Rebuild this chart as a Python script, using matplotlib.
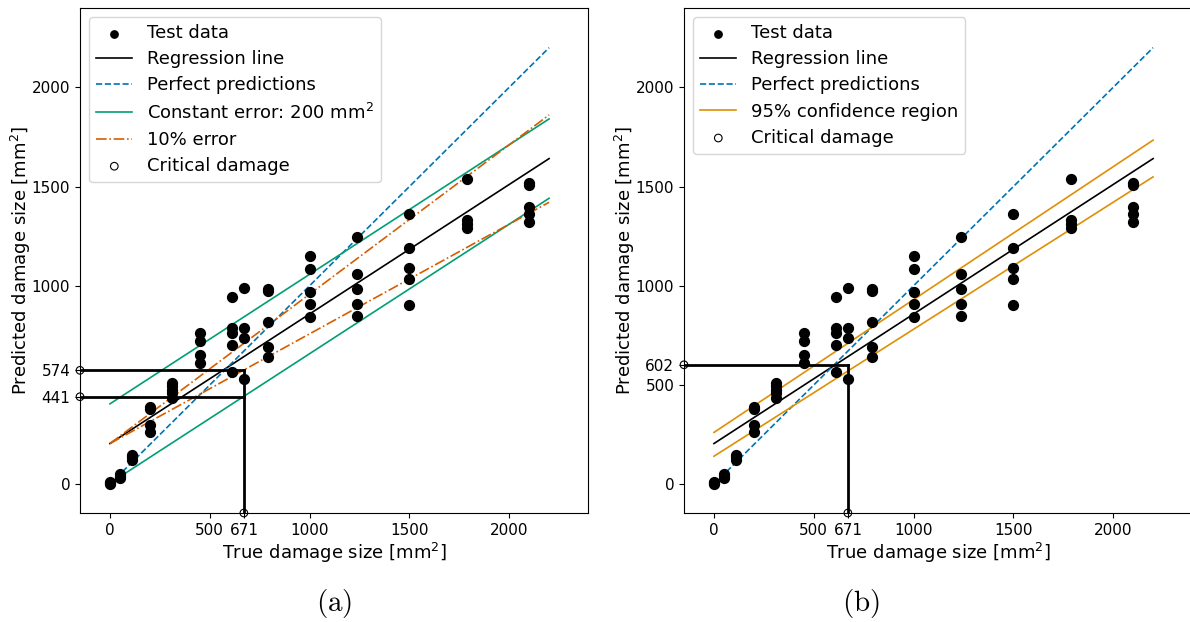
import numpy as np
import matplotlib.pyplot as plt

# test data: true damage size -> predicted damage size [mm^2]
true_size = [0, 0, 0,
             50, 50, 50,
             110, 110, 110,
             200, 200, 200, 200,
             310, 310, 310, 310, 310,
             450, 450, 450, 450,
             610, 610, 610, 610, 610,
             670, 670, 670, 670,
             790, 790, 790, 790, 790,
             1000, 1000, 1000, 1000, 1000,
             1240, 1240, 1240, 1240, 1240,
             1500, 1500, 1500, 1500, 1500,
             1790, 1790, 1790, 1790,
             2100, 2100, 2100, 2100, 2100]
pred_size = [0, 5, 10,
             30, 40, 52,
             121, 135, 146,
             261, 301, 379, 390,
             436, 458, 475, 495, 512,
             610, 651, 724, 761,
             567, 702, 761, 786, 944,
             530, 739, 786, 988,
             643, 693, 818, 975, 986,
             845, 908, 971, 1084, 1148,
             848, 908, 985, 1059, 1246,
             902, 1034, 1089, 1190, 1360,
             1290, 1312, 1332, 1540,
             1322, 1364, 1397, 1510, 1520]

# lines (end points)
line_x = [0, 2200]
reg_y = [205, 1641]
const_err = 200
pct_err = 0.10
conf_upper = [261, 1734]
conf_lower = [141, 1549]

crit_true = 671
crit_pred_a = [574, 441]
crit_pred_b = 602

xticks = [0, 500, 671, 1000, 1500, 2000]
yticks_a = [0, 441, 574, 1000, 1500, 2000]
yticks_b = [0, 500, 602, 1000, 1500, 2000]

xlim_a = (-150, 2395)
xlim_b = (-150, 2455)   # right panel is cut at the figure edge
ylim = (-145, 2400)

c_blue = '#0173b2'
c_green = '#029e73'
c_red = '#d55e00'
c_orange = '#de8f05'

fig = plt.figure(figsize=(11.9, 6.22), dpi=100)
ax1 = fig.add_axes([80 / 1190, 109 / 622, 508 / 1190, 505 / 622])
ax2 = fig.add_axes([684 / 1190, 109 / 622, 520 / 1190, 505 / 622])

lx = np.array(line_x)
ry = np.array(reg_y)

# (a)
ax1.scatter(true_size, pred_size, s=50, c='black', label='Test data', zorder=3)
ax1.plot(lx, ry, c='black', lw=1.2, label='Regression line')
ax1.plot(lx, lx, c=c_blue, ls='--', lw=1.2, label='Perfect predictions')
ax1.plot(lx, ry + const_err, c=c_green, lw=1.2, label=r'Constant error: 200 mm$^2$')
ax1.plot(lx, ry - const_err, c=c_green, lw=1.2)
ax1.plot(lx, ry + pct_err * lx, c=c_red, ls='-.', lw=1.2, label='10% error')
ax1.plot(lx, ry - pct_err * lx, c=c_red, ls='-.', lw=1.2)
ax1.plot([crit_true, crit_true], [ylim[0], max(crit_pred_a)], c='black', lw=2)
for p in crit_pred_a:
    ax1.plot([xlim_a[0], crit_true], [p, p], c='black', lw=2)
ax1.scatter([crit_true] + [xlim_a[0]] * len(crit_pred_a), [ylim[0]] + crit_pred_a,
            s=30, facecolors='none', edgecolors='black', lw=0.8,
            label='Critical damage', clip_on=False, zorder=5)
ax1.set_yticks(yticks_a)
ax1.set_xlim(xlim_a)

# (b)
ax2.scatter(true_size, pred_size, s=50, c='black', label='Test data', zorder=3)
ax2.plot(lx, ry, c='black', lw=1.2, label='Regression line')
ax2.plot(lx, lx, c=c_blue, ls='--', lw=1.2, label='Perfect predictions')
ax2.plot(lx, conf_upper, c=c_orange, lw=1.2, label='95% confidence region')
ax2.plot(lx, conf_lower, c=c_orange, lw=1.2)
ax2.plot([crit_true, crit_true], [ylim[0], crit_pred_b], c='black', lw=2)
ax2.plot([xlim_b[0], crit_true], [crit_pred_b, crit_pred_b], c='black', lw=2)
ax2.scatter([crit_true, xlim_b[0]], [ylim[0], crit_pred_b],
            s=30, facecolors='none', edgecolors='black', lw=0.8,
            label='Critical damage', clip_on=False, zorder=5)
ax2.set_yticks(yticks_b)
ax2.set_xlim(xlim_b)
ax2.spines['right'].set_visible(False)

for ax in [ax1, ax2]:
    ax.set_ylim(ylim)
    ax.set_xticks(xticks)
    ax.tick_params(labelsize=11)
    ax.set_xlabel(r'True damage size [mm$^2$]', fontsize=13, labelpad=3)
    ax.set_ylabel(r'Predicted damage size [mm$^2$]', fontsize=13, labelpad=-1)
    leg = ax.legend(loc='upper left', fontsize=13, labelspacing=0.45)
    leg.legend_handles[0].set_sizes([28])

ax2.xaxis.set_label_coords((938 - 684) / 520, -0.055, transform=ax2.transAxes)
ax2.xaxis.label.set_va('top')
ax1.xaxis.set_label_coords(0.5, -0.055, transform=ax1.transAxes)
ax1.xaxis.label.set_va('top')

fig.text(334 / 1190, 1 - 603 / 622, r'$\mathrm{(a)}$', ha='center', va='center',
         fontsize=21, math_fontfamily='cm')
fig.text(861 / 1190, 1 - 603 / 622, r'$\mathrm{(b)}$', ha='center', va='center',
         fontsize=21, math_fontfamily='cm')

fig.savefig('out.png', dpi=100)
